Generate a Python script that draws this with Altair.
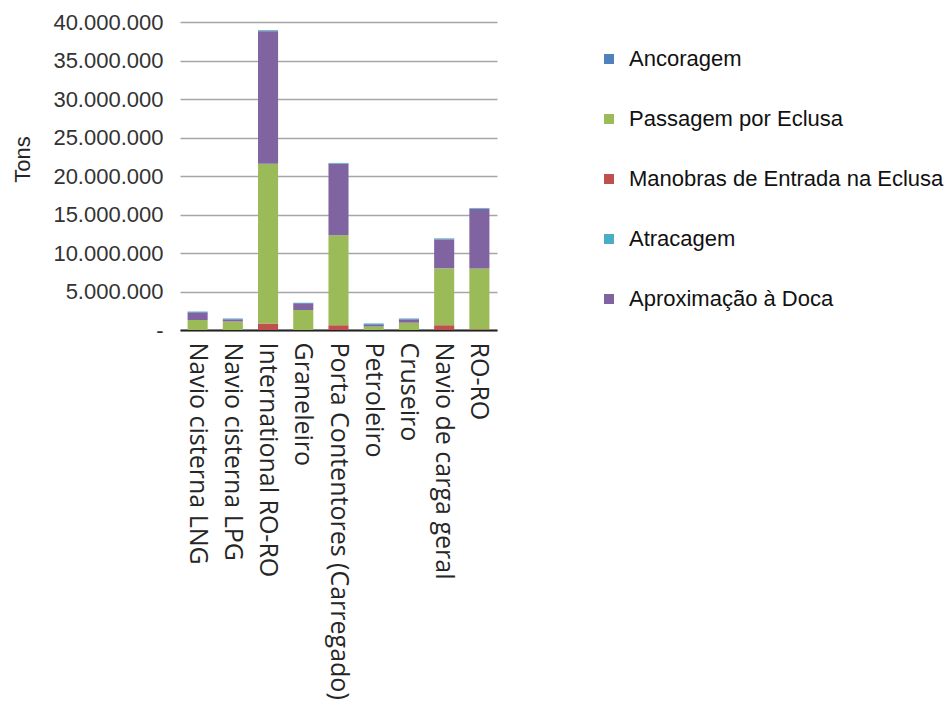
import altair as alt
import pandas as pd

# Vessel categories along the x axis
categories = [
    "Navio cisterna LNG",
    "Navio cisterna LPG",
    "International RO-RO",
    "Graneleiro",
    "Porta Contentores (Carregado)",
    "Petroleiro",
    "Cruseiro",
    "Navio de carga geral",
    "RO-RO",
]

# Emission series per manoeuvre phase (tons)
manobras = [0, 0, 800_000, 0, 600_000, 0, 0, 600_000, 50_000]
passagem = [1_300_000, 1_100_000, 20_800_000, 2_600_000, 11_700_000, 450_000, 950_000, 7_400_000, 7_950_000]
aproximacao = [950_000, 250_000, 17_200_000, 800_000, 9_250_000, 200_000, 400_000, 3_750_000, 7_700_000]
ancoragem = [100_000, 100_000, 50_000, 100_000, 50_000, 100_000, 100_000, 50_000, 50_000]
atracagem = [50_000, 50_000, 100_000, 50_000, 100_000, 100_000, 50_000, 100_000, 100_000]

series = {
    "Ancoragem": ancoragem,
    "Passagem por Eclusa": passagem,
    "Manobras de Entrada na Eclusa": manobras,
    "Atracagem": atracagem,
    "Aproximação à Doca": aproximacao,
}
legend_order = list(series.keys())
colors = ["#4F81BD", "#9BBB59", "#C0504D", "#4BACC6", "#8064A2"]
# bottom-to-top stacking order
stack_rank = {
    "Manobras de Entrada na Eclusa": 0,
    "Passagem por Eclusa": 1,
    "Aproximação à Doca": 2,
    "Ancoragem": 3,
    "Atracagem": 4,
}

rows = []
for name, vals in series.items():
    for cat, v in zip(categories, vals):
        rows.append({"Categoria": cat, "Fase": name, "Tons": v, "rank": stack_rank[name]})
df = pd.DataFrame(rows)

y_ticks = [0, 5_000_000, 10_000_000, 15_000_000, 20_000_000, 25_000_000, 30_000_000, 35_000_000, 40_000_000]

chart = alt.Chart(df).mark_bar().encode(
    x=alt.X(
        "Categoria:N",
        sort=categories,
        title=None,
        scale=alt.Scale(paddingInner=0.43, paddingOuter=0.215),
        axis=alt.Axis(
            labelAngle=90,
            labelAlign="left",
            labelBaseline="middle",
            labelFont="Open Sans",
            labelFontSize=25,
            labelColor="#262626",
            labelPadding=12,
            labelLimit=0,
            ticks=False,
            domainColor="#222222",
            domainWidth=2,
            grid=False,
        ),
    ),
    y=alt.Y(
        "sum(Tons):Q",
        title="Tons",
        scale=alt.Scale(domain=[0, 40_000_000], nice=False),
        axis=alt.Axis(
            values=y_ticks,
            labelExpr="datum.value == 0 ? '-' : replace(format(datum.value, ','), regexp(',', 'g'), '.')",
            labelFont="Liberation Sans",
            labelFontSize=22,
            labelColor="#333333",
            labelPadding=17,
            ticks=False,
            domain=False,
            gridColor="#A6A6A6",
            gridWidth=1.5,
            titleFont="Liberation Sans",
            titleFontSize=22,
            titleFontWeight="normal",
            titleColor="#262626",
            titlePadding=18,
            titleY=137,
        ),
    ),
    color=alt.Color(
        "Fase:N",
        scale=alt.Scale(domain=legend_order, range=colors),
        sort=legend_order,
        legend=alt.Legend(
            title=None,
            orient="none",
            legendX=418,
            legendY=26,
            symbolType="square",
            symbolSize=100,
            symbolStrokeWidth=0,
            labelFont="Liberation Sans",
            labelFontSize=22,
            labelColor="#111111",
            labelLimit=0,
            rowPadding=38,
            labelOffset=9,
        ),
    ),
    order=alt.Order("rank:Q", sort="ascending"),
).properties(
    width=317,
    height=308,
    autosize=alt.AutoSizeParams(type="none"),
    padding={"left": 180, "top": 22, "right": 451, "bottom": 374},
).configure(
    background="white",
    view=alt.ViewConfig(stroke=None),
)

chart.save("out.html", embed_options={"renderer": "svg", "actions": False})
